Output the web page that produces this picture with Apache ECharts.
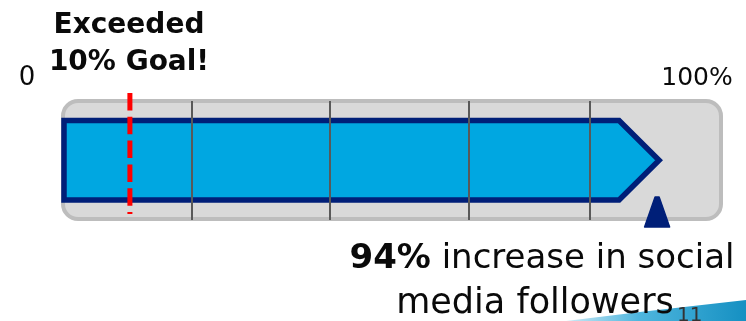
<!DOCTYPE html>
<html>
<head>
<meta charset="utf-8">
<script src="https://cdn.jsdelivr.net/npm/echarts@6/dist/echarts.min.js"></script>
<style>
  html, body { margin: 0; padding: 0; background: #fff; }
  #main { width: 746px; height: 321px; }
</style>
</head>
<body>
<div id="main"></div>
<script>
// values (percent of the track)
var progress = [[0, 90.3]];          // arrow start / tip
var goal = [10];                      // red dashed goal line
var dividers = [19.4, 40.4, 61.5, 79.8];
var marker = [90];                    // navy triangle
var startLabel = '0';
var endLabel = '100%';
var goalLabel = 'Exceeded\n10% Goal!';
var bigNumber = '94%';
var caption1 = ' increase in social';
var caption2 = 'media followers';
var footnote = '11';

var chartDom = document.getElementById('main');
var myChart = echarts.init(chartDom);
var option;

var NAVY = '#001f78';
var FONT = '"DejaVu Sans", sans-serif';

option = {
    animation: false,
    grid: { left: 64, right: 23, top: 99, bottom: 100 },
    xAxis: { type: 'value', min: 0, max: 100, show: false },
    yAxis: { type: 'value', min: 0, max: 1, show: false },
    graphic: [
        {
            type: 'polygon',
            shape: { points: [[566, 321], [640, 312], [746, 300], [746, 321]] },
            style: {
                fill: new echarts.graphic.LinearGradient(0, 0, 1, 0, [
                    { offset: 0, color: '#cdeaf6' },
                    { offset: 0.4, color: '#4fb6de' },
                    { offset: 1, color: '#1590c2' }
                ])
            },
            z: 1
        },
        {
            type: 'text', x: 129, y: 7,
            style: {
                text: goalLabel, align: 'center',
                font: 'bold 28px ' + FONT, lineHeight: 37, fill: '#0a0a0a'
            }
        },
        {
            type: 'text', x: 27, y: 78,
            style: { text: startLabel, align: 'center', verticalAlign: 'middle', font: '26px ' + FONT, fill: '#0a0a0a' }
        },
        {
            type: 'text', x: 697, y: 78,
            style: { text: endLabel, align: 'center', verticalAlign: 'middle', font: '25px ' + FONT, fill: '#0a0a0a' }
        },
        {
            type: 'text', x: 542, y: 259,
            style: {
                text: '{b|' + bigNumber + '}{r|' + caption1 + '}',
                align: 'center', verticalAlign: 'middle',
                rich: {
                    b: { font: 'bold 34px ' + FONT, fill: '#0a0a0a' },
                    r: { font: '34px ' + FONT, fill: '#0a0a0a' }
                }
            }
        },
        {
            type: 'text', x: 535, y: 304,
            style: { text: caption2, align: 'center', verticalAlign: 'middle', font: '35px ' + FONT, fill: '#0a0a0a' },
            z: 5
        },
        {
            type: 'text', x: 677, y: 316,
            style: { text: footnote, align: 'left', verticalAlign: 'middle', font: '20px ' + FONT, fill: '#333' },
            z: 5
        }
    ],
    series: [
        {
            // rounded grey track
            type: 'custom',
            data: [[0]],
            z: 1,
            renderItem: function (params, api) {
                var cs = params.coordSys;
                return {
                    type: 'rect',
                    shape: { x: cs.x - 1, y: cs.y + 2, width: cs.width - 1, height: cs.height - 4, r: 15 },
                    style: { fill: '#d9d9d9', stroke: '#bdbdbd', lineWidth: 4 }
                };
            }
        },
        {
            // blue arrow
            type: 'custom',
            data: progress,
            z: 2,
            renderItem: function (params, api) {
                var cs = params.coordSys;
                var x0 = api.coord([api.value(0), 0])[0];
                var tip = api.coord([api.value(1), 0])[0];
                var top = cs.y + 21.5, bottom = cs.y + 101, mid = (top + bottom) / 2;
                return {
                    type: 'polygon',
                    shape: { points: [[x0, top], [tip - 40, top], [tip, mid], [tip - 40, bottom], [x0, bottom]] },
                    style: { fill: '#00a7e1', stroke: NAVY, lineWidth: 5.5, lineJoin: 'miter' }
                };
            }
        },
        {
            // grey divider lines
            type: 'custom',
            data: dividers,
            z: 3,
            renderItem: function (params, api) {
                var cs = params.coordSys;
                var x = Math.round(api.coord([api.value(0), 0])[0]);
                return {
                    type: 'line',
                    shape: { x1: x, y1: cs.y + 2, x2: x, y2: cs.y + cs.height - 1 },
                    style: { stroke: '#595959', lineWidth: 2 }
                };
            }
        },
        {
            // red dashed goal line
            type: 'custom',
            data: goal,
            z: 4,
            renderItem: function (params, api) {
                var cs = params.coordSys;
                var x = api.coord([api.value(0), 0])[0];
                return {
                    type: 'line',
                    shape: { x1: x, y1: cs.y - 6, x2: x, y2: cs.y + 115 },
                    style: { stroke: '#ff0000', lineWidth: 5, lineDash: [17.5, 6.3] }
                };
            }
        },
        {
            // navy triangle marker
            type: 'custom',
            data: marker,
            z: 4,
            renderItem: function (params, api) {
                var cs = params.coordSys;
                var x = api.coord([api.value(0), 0])[0];
                var y0 = cs.y + 98, y1 = cs.y + 128;
                return {
                    type: 'polygon',
                    shape: { points: [[x - 2, y0], [x + 2, y0], [x + 12.5, y1], [x - 12.5, y1]] },
                    style: { fill: NAVY, stroke: NAVY, lineWidth: 1.5, lineJoin: 'round' }
                };
            }
        }
    ]
};

option && myChart.setOption(option);
</script>
</body>
</html>
